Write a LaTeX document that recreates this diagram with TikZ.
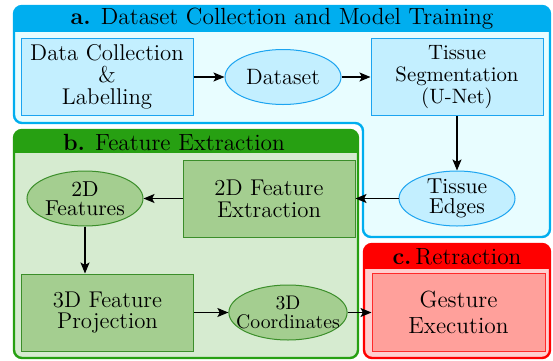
\documentclass[tikz,border=0pt]{standalone}
\usepackage{tikz}
\usetikzlibrary{shapes.geometric,backgrounds,arrows.meta}

\begin{document}
\begin{tikzpicture}[
  x=0.5pt, y=-0.5pt,
  every node/.style={align=center, inner sep=0pt},
  box/.style={draw, rectangle, line width=0.5pt,
    minimum width=86pt, minimum height=38.5pt,
    font=\fontsize{11.4}{10.9}\selectfont},
  blob/.style={draw, ellipse, line width=0.5pt,
    minimum width=58pt, minimum height=27.5pt,
    font=\fontsize{10.8}{9.6}\selectfont},
  title/.style={font=\fontsize{11.7}{12}\selectfont},
  panel/.style={line width=1.2pt, rounded corners=4pt},
]
%-------------------------------------------------------------
% Custom colors
\definecolor{colorisD}{HTML}{00AEEF}   % dataset panel
\definecolor{colorisDb}{HTML}{E8FDFF}
\definecolor{colorisDn}{HTML}{C3EFFF}
\definecolor{colorisDl}{HTML}{1CA4F0}
\definecolor{colorisF}{HTML}{27A012}   % feature panel
\definecolor{colorisFb}{HTML}{D6EBD0}
\definecolor{colorisFn}{HTML}{A4CE90}
\definecolor{colorisFl}{HTML}{3B8E2A}
\definecolor{colorisR}{HTML}{FF0000}   % retraction panel
\definecolor{colorisRb}{HTML}{FFCFCF}
\definecolor{colorisRn}{HTML}{FFA09B}
\definecolor{colorisRl}{HTML}{FF2A2A}

\tikzset{boxD/.style={fill=colorisDn, draw=colorisDl}}
\tikzset{boxF/.style={fill=colorisFn, draw=colorisFl}}
\tikzset{boxR/.style={fill=colorisRn, draw=colorisRl}}
\tikzset{arrow/.style={draw,-{Stealth[length=5.5pt,width=4.5pt,inset=1.2pt]},line width=0.6pt,black}}

\useasboundingbox (0,0) rectangle (553,360);

%-------------------------------------------------------------
% Panel titles
\node[title] (tD) at (282,19) {\textbf{a.} Dataset Collection and Model Training};
\node[title] (tF) at (174,142) {\textbf{b.} Feature Extraction};
\node[title] (tR) at (457,257) {\textbf{c.}\,Retraction};

%============================================================
% a. Dataset collection and model training
\node[box, boxD] (collect) at (107,77) {Data Collection\\\&\\Labelling};
\node[blob, boxD, font=\fontsize{11.1}{12}\selectfont] (dataset) at (283,77) {Dataset};
\node[box, boxD, font=\fontsize{10.4}{10.8}\selectfont] (segment) at (457,77) {Tissue\\Segmentation\\(U-Net)};
\node[blob, boxD] (edges) at (457,198.5) {Tissue\\Edges};
%============================================================
% b. Feature extraction
\node[box, boxF] (extract) at (269,198.5) {2D Feature\\Extraction};
\node[blob, boxF] (feat2d) at (85,198.5) {2D\\Features};
\node[box, boxF] (project) at (107.5,312.5) {3D Feature\\Projection};
\node[blob, boxF, inner xsep=-5pt, font=\fontsize{9.85}{9.4}\selectfont] (coords) at (288,312.5) {3D\\Coordinates};
%============================================================
% c. Retraction
\node[box, boxR, minimum width=86.5pt, minimum height=39pt,
  font=\fontsize{11.7}{13}\selectfont] (gesture) at (458.5,312.5) {Gesture\\Execution};
%============================================================

\draw[arrow] (collect) -- (dataset);
\draw[arrow] (dataset) -- (segment);
\draw[arrow] (segment) -- (edges);
\draw[arrow] (edges) -- (extract);
\draw[arrow] (extract) -- (feat2d);
\draw[arrow] (feat2d.south) -- (feat2d.south |- project.north);
\draw[arrow] (project) -- (coords);
\draw[arrow] (coords) -- (gesture);

%---------------------------------------------------
% Background panels
\begin{pgfonlayer}{background}
  % a.
  \fill[colorisDb, panel] (14,6) -- (550,6) -- (550,237) -- (363,237) -- (363,123) -- (14,123) -- cycle;
  \begin{scope}
    \clip[rounded corners=4pt] (14,6) -- (550,6) -- (550,237) -- (363,237) -- (363,123) -- (14,123) -- cycle;
    \fill[colorisD] (14,6) rectangle (550,32);
  \end{scope}
  \draw[colorisD, panel] (14,6) -- (550,6) -- (550,237) -- (363,237) -- (363,123) -- (14,123) -- cycle;
  % b.
  \fill[colorisFb, panel] (14,130) rectangle (358,358);
  \begin{scope}
    \clip[rounded corners=4pt] (14,130) rectangle (358,358);
    \fill[colorisF] (14,130) rectangle (358,153);
  \end{scope}
  \draw[colorisF, panel] (14,130) rectangle (358,358);
  % c.
  \fill[colorisRb, panel] (364,244) rectangle (550,358);
  \begin{scope}
    \clip[rounded corners=4pt] (364,244) rectangle (550,358);
    \fill[colorisR] (364,244) rectangle (550,269);
  \end{scope}
  \draw[colorisR, panel] (364,244) rectangle (550,358);
\end{pgfonlayer}

\end{tikzpicture}
\end{document}
